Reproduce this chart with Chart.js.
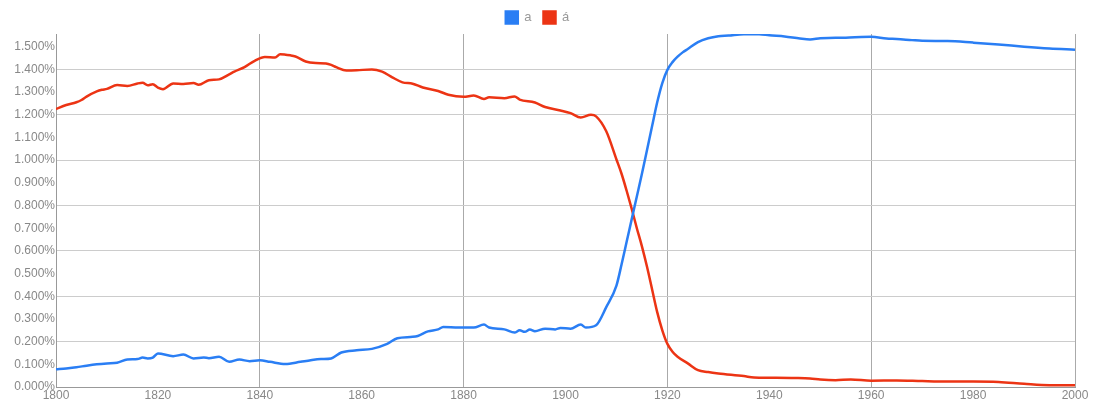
<!DOCTYPE html>
<html>
<head>
<meta charset="utf-8">
<script src="https://cdn.jsdelivr.net/npm/chart.js@4/dist/chart.umd.min.js"></script>
<style>
html,body{margin:0;padding:0;background:#fff;}
#wrap{width:1094px;height:402px;position:relative;}
</style>
</head>
<body>
<div id="wrap"><canvas id="c" width="1094" height="402"></canvas></div>
<script>
const seriesNames = ["a", "á"];

const aYears = [1800,1802,1804,1806,1808,1810,1812,1814,1816,1817,1818,1819,1820,1823,1825,1827,1829,1830,1832,1834,1836,1838,1840,1842,1845,1848,1850,1852,1854,1856,1859,1862,1865,1867,1870,1871,1873,1875,1876,1879,1882,1884,1885,1888,1890,1891,1892,1893,1894,1896,1898,1899,1901,1903,1904,1906,1908,1910,1911,1912,1913,1914,1915,1916,1917,1918,1919,1920,1921,1922,1923,1924,1926,1928,1930,1932,1935,1938,1940,1943,1946,1948,1950,1953,1955,1958,1960,1963,1965,1968,1970,1975,1980,1985,1990,1995,2000];
const aValues = [0.078,0.082,0.087,0.094,0.100,0.104,0.107,0.121,0.123,0.130,0.126,0.130,0.148,0.136,0.143,0.126,0.130,0.127,0.133,0.111,0.121,0.114,0.118,0.111,0.101,0.111,0.118,0.123,0.126,0.152,0.162,0.168,0.190,0.215,0.221,0.225,0.245,0.254,0.265,0.262,0.262,0.275,0.262,0.254,0.240,0.250,0.243,0.253,0.246,0.257,0.254,0.260,0.257,0.275,0.262,0.272,0.352,0.447,0.540,0.640,0.740,0.840,0.940,1.045,1.150,1.255,1.340,1.398,1.432,1.456,1.475,1.490,1.520,1.537,1.546,1.549,1.555,1.555,1.550,1.545,1.536,1.532,1.537,1.540,1.540,1.543,1.544,1.536,1.534,1.529,1.526,1.525,1.518,1.510,1.500,1.492,1.487];

const aaYears = [1800,1802,1804,1805,1806,1808,1809,1810,1812,1814,1816,1817,1818,1819,1820,1821,1823,1825,1827,1828,1830,1832,1834,1835,1837,1839,1841,1843,1844,1846,1847,1849,1851,1853,1854,1855,1857,1859,1862,1864,1866,1868,1870,1872,1875,1877,1880,1882,1884,1885,1888,1890,1891,1894,1896,1899,1901,1903,1905,1906,1908,1910,1911,1912,1913,1914,1915,1916,1917,1918,1919,1920,1921,1922,1924,1926,1928,1930,1935,1937,1940,1945,1948,1950,1953,1956,1960,1965,1970,1975,1980,1985,1990,1995,2000];
const aaValues = [1.225,1.243,1.255,1.265,1.280,1.303,1.310,1.314,1.331,1.327,1.338,1.341,1.330,1.335,1.320,1.313,1.338,1.336,1.340,1.332,1.352,1.356,1.378,1.390,1.410,1.438,1.455,1.452,1.467,1.462,1.457,1.435,1.428,1.426,1.420,1.410,1.395,1.396,1.400,1.390,1.365,1.343,1.337,1.320,1.305,1.288,1.279,1.285,1.270,1.277,1.273,1.281,1.267,1.254,1.234,1.219,1.207,1.188,1.200,1.193,1.127,1.003,0.940,0.865,0.785,0.700,0.620,0.530,0.430,0.330,0.250,0.190,0.155,0.133,0.104,0.074,0.066,0.060,0.048,0.042,0.041,0.040,0.038,0.033,0.030,0.033,0.028,0.029,0.026,0.024,0.024,0.022,0.014,0.008,0.008];

const xTicks = [1800,1820,1840,1860,1880,1900,1920,1940,1960,1980,2000];
const yTicks = [0,0.1,0.2,0.3,0.4,0.5,0.6,0.7,0.8,0.9,1.0,1.1,1.2,1.3,1.4,1.5];

const colors = ["#2a7ef4", "#ec3414"];

function pts(xs, ys){ return xs.map((x,i)=>({x:x, y:ys[i]})); }

const ctx = document.getElementById('c').getContext('2d');
new Chart(ctx, {
  type: 'line',
  data: {
    datasets: [
      {label: seriesNames[0], data: pts(aYears, aValues), borderColor: colors[0], backgroundColor: colors[0], borderWidth: 2.5, pointRadius: 0, cubicInterpolationMode: 'monotone', fill: false},
      {label: seriesNames[1], data: pts(aaYears, aaValues), borderColor: colors[1], backgroundColor: colors[1], borderWidth: 2.5, pointRadius: 0, cubicInterpolationMode: 'monotone', fill: false}
    ]
  },
  options: {
    responsive: false,
    animation: false,
    devicePixelRatio: 1,
    layout: {padding: {top: -1, right: 19, bottom: 0, left: 0}},
    plugins: {
      legend: {
        display: true,
        position: 'top',
        labels: {
          boxWidth: 12, boxHeight: 12, padding: 12,
          color: '#999',
          font: {family: '"Liberation Sans", Arial, sans-serif', size: 13}
        }
      },
      tooltip: {enabled: false}
    },
    scales: {
      x: {
        type: 'linear', min: 1800, max: 2000,
        afterBuildTicks: s => { s.ticks = xTicks.map(v => ({value: v})); },
        afterFit: s => { s.height = 15; },
        ticks: {
          color: '#888', padding: 1, maxRotation: 0, autoSkip: false,
          font: {family: '"Liberation Sans", Arial, sans-serif', size: 12},
          callback: v => String(v)
        },
        grid: {
          drawTicks: false,
          color: c => (c.tick && c.tick.value > 1800 && (c.tick.value - 1800) % 40 === 0) ? '#aaaaaa' : 'rgba(0,0,0,0)',
          lineWidth: 1
        },
        border: {display: true, color: '#999', width: 1}
      },
      y: {
        type: 'linear', min: 0, max: 1.556,
        afterBuildTicks: s => { s.ticks = yTicks.map(v => ({value: v})); },
        afterFit: s => { s.width = 56; },
        ticks: {
          color: '#888', padding: 1,
          font: {family: '"Liberation Sans", Arial, sans-serif', size: 12},
          callback: v => v.toFixed(3) + '%'
        },
        grid: {
          drawTicks: false,
          color: c => {
            if (!c.tick) return 'rgba(0,0,0,0)';
            const k = Math.round(c.tick.value * 10);
            return (k > 0 && k % 2 === 0) ? '#cccccc' : 'rgba(0,0,0,0)';
          },
          lineWidth: 1
        },
        border: {display: true, color: '#999', width: 1}
      }
    }
  }
});
</script>
</body>
</html>
